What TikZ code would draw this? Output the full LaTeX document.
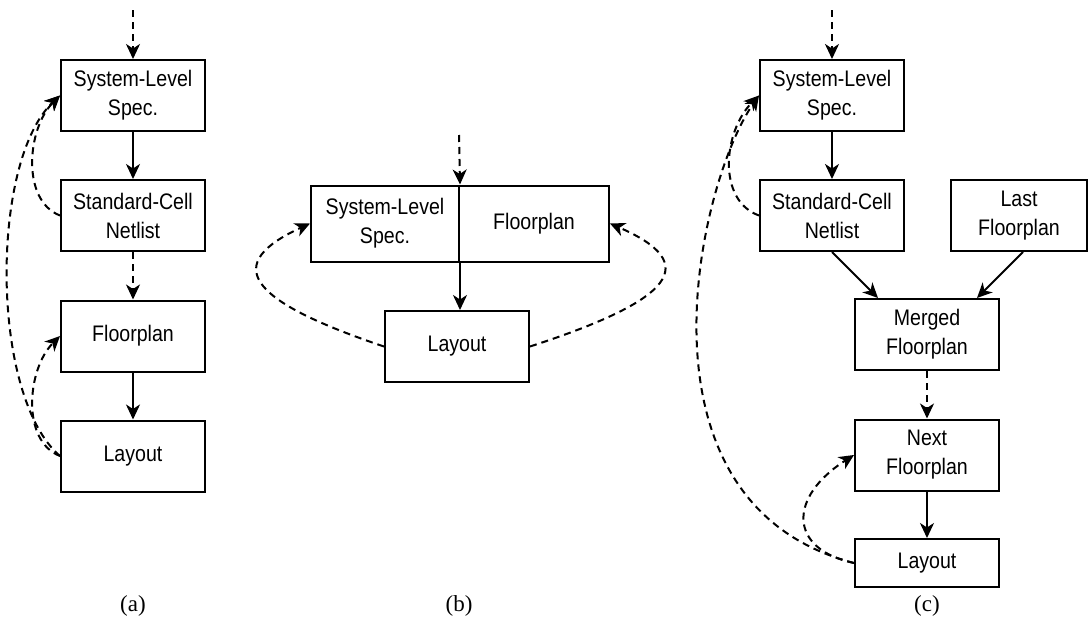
\documentclass[tikz,border=0pt]{standalone}
\usepackage{fontspec}
\newfontfamily\boxfont{Liberation Sans}[FakeStretch=0.87]
\newfontfamily\capfont{Liberation Serif}
\usetikzlibrary{arrows.meta}

\tikzset{
  block/.style = {draw, line width=2pt, minimum width=144pt, minimum height=71pt,
    inner sep=0pt, align=center, font=\boxfont\fontsize{22.5}{29}\selectfont},
  flow/.style = {line width=2pt, -{Stealth[length=15pt, width=14pt, inset=4.5pt]}},
  back/.style = {flow, dash pattern=on 7pt off 5pt},
  caption/.style = {font=\capfont\fontsize{23}{26}\selectfont}
}

\begin{document}
\begin{tikzpicture}[x=1pt, y=-1pt]
	\useasboundingbox (0,0) rectangle (1088,621);
	% (a) sequential flow
	\coordinate (topA) at (133,10);
	\node[block] (specA) at (133,95.5) {System-Level\\Spec.};
	\node[block] (netA) at (133,215.5) {Standard-Cell\\Netlist};
	\node[block] (floorA) at (133,336) {Floorplan};
	\node[block] (layA) at (133,456) {Layout};
	\draw[back] (topA) -- (specA);
	\draw[flow] (specA) -- (netA);
	\draw[back] (netA) -- (floorA);
	\draw[flow] (floorA) -- (layA);
	\draw[back] (netA.west) .. controls +(-39,-15) and +(-33,33) .. (specA.west);
	\draw[back] (layA.west) .. controls +(-39,-15) and +(-33,33) .. (floorA.west);
	\draw[back] (layA.west) .. controls +(-70,-60) and +(-70,66) .. (specA.west);
	\node[caption] (capA) at (133,606) {(a)};

	% (b) joint spec and floorplan
	\coordinate (topB) at (459,135);
	\node[block, minimum width=148pt, minimum height=76pt] (specB) at (385,223.5) {System-Level\\Spec.};
	\node[block, minimum width=150pt, minimum height=76pt] (floorB) at (534,223.5) {Floorplan};
	\node[block] (layB) at (457,346.5) {Layout};
	\draw[back] (topB) -- (specB.north east);
	\draw[flow] (specB.south east) -- (specB.south east |- layB.north);
	\draw[back] (layB.west) .. controls +(-140,-47) and +(-87,40) .. (specB.west);
	\draw[back] (layB.east) .. controls +(145,-47) and +(92,40) .. (floorB.east);
	\node[caption] (capB) at (459,606) {(b)};

	% (c) incremental flow
	\coordinate (topC) at (832,10);
	\node[block] (specC) at (832,95.5) {System-Level\\Spec.};
	\node[block] (netC) at (832,215.5) {Standard-Cell\\Netlist};
	\node[block, minimum width=136pt] (lastC) at (1019,215.5) {Last\\Floorplan};
	\node[block] (mergedC) at (927,334.5) {Merged\\Floorplan};
	\node[block] (nextC) at (927,455) {Next\\Floorplan};
	\node[block, minimum height=48pt] (layC) at (927,563) {Layout};
	\draw[back] (topC) -- (specC);
	\draw[flow] (specC) -- (netC);
	\draw[flow] (netC.south) -- ([xshift=-49pt]mergedC.north);
	\draw[flow] ([xshift=4pt]lastC.south) -- ([xshift=50pt]mergedC.north);
	\draw[back] (mergedC) -- (nextC);
	\draw[flow] (nextC) -- (layC);
	\draw[back] (netC.west) .. controls +(-42,-15) and +(-36,36) .. (specC.west);
	\draw[back] (layC.west) .. controls +(-66,-14) and +(-66,42) .. (nextC.west);
	\draw[back] (layC.west) .. controls +(-230,-60) and +(-61,87) .. (specC.west);
	\node[caption] (capC) at (927,606) {(c)};
\end{tikzpicture}
\end{document}
